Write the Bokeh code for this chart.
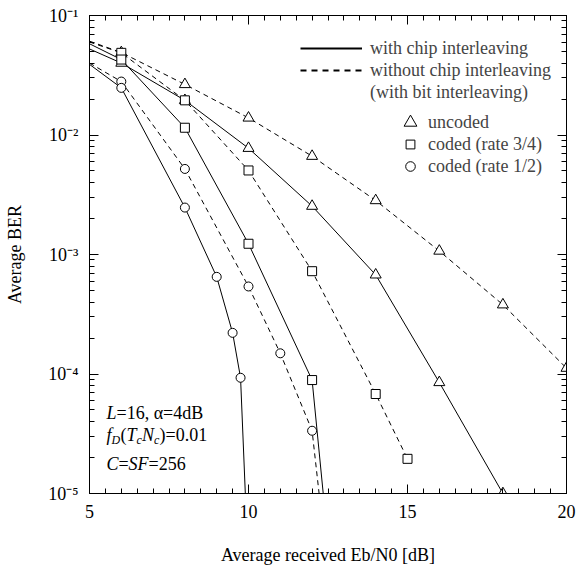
import math
from bokeh.plotting import figure
from bokeh.models import Range1d, FixedTicker, LinearAxis, LogAxis, Label, Legend, LegendItem
from bokeh.embed import file_html
from bokeh.resources import INLINE

# ---------------- data ----------------
x_ticks = [5, 10, 15, 20]
y_exponents = [-5, -4, -3, -2, -1]
y_tick_labels = ["10\u207b\u2075", "10\u207b\u2074", "10\u207b\u00b3", "10\u207b\u00b2", "10\u207b\u00b9"]

# uncoded
unc_dash_x = [5, 6, 8, 10, 12, 14, 16, 18, 20]
unc_dash_y = [6.1e-2, 4.9e-2, 2.65e-2, 1.39e-2, 6.65e-3, 2.83e-3, 1.07e-3, 3.8e-4, 1.12e-4]
unc_solid_x = [5, 6, 8, 10, 12, 14, 16, 18]
unc_solid_y = [5.25e-2, 4.0e-2, 1.95e-2, 7.75e-3, 2.54e-3, 6.76e-4, 8.5e-5, 1.0e-5]
# coded rate 3/4
r34_dash_x = [5, 6, 8, 10, 12, 14, 15]
r34_dash_y = [6.0e-2, 4.87e-2, 1.95e-2, 5.05e-3, 7.25e-4, 6.8e-5, 1.95e-5]
r34_solid_x = [5, 6, 8, 10, 12, 12.35]
r34_solid_y = [5.8e-2, 4.28e-2, 1.15e-2, 1.23e-3, 8.9e-5, 1.0e-5]
# coded rate 1/2
r12_dash_x = [5, 6, 8, 10, 11, 12, 12.22]
r12_dash_y = [4.0e-2, 2.8e-2, 5.2e-3, 5.4e-4, 1.49e-4, 3.35e-5, 1.0e-5]
r12_solid_x = [5, 6, 8, 9, 9.5, 9.75, 9.9]
r12_solid_y = [3.9e-2, 2.48e-2, 2.47e-3, 6.5e-4, 2.21e-4, 9.3e-5, 1.0e-5]

legend_line_labels = ["with chip interleaving", "without chip interleaving", "(with bit interleaving)"]
legend_marker_labels = ["uncoded", "coded (rate 3/4)", "coded (rate 1/2)"]
x_title = "Average received Eb/N0 [dB]"
y_title = "Average BER"

FONT = "Liberation Serif"
DASH = "5 4"

# (x, y, marker, dash, first marked index, last marked index (exclusive))
series = [
    (unc_dash_x, unc_dash_y, "triangle", DASH, 1, len(unc_dash_x)),
    (unc_solid_x, unc_solid_y, "triangle", "solid", 1, len(unc_solid_x)),
    (r34_dash_x, r34_dash_y, "square", DASH, 1, len(r34_dash_x)),
    (r34_solid_x, r34_solid_y, "square", "solid", 1, len(r34_solid_x) - 1),
    (r12_dash_x, r12_dash_y, "circle", DASH, 1, len(r12_dash_x) - 1),
    (r12_solid_x, r12_solid_y, "circle", "solid", 1, len(r12_solid_x) - 1),
]
marker_size = {"triangle": 11, "square": 9, "circle": 9}

p = figure(width=586, height=570,
           x_range=Range1d(5, 20), y_range=Range1d(1e-5, 1e-1),
           y_axis_type="log", output_backend="svg", toolbar_location=None,
           min_border_left=89, min_border_right=20, min_border_top=15, min_border_bottom=77)
p.xgrid.visible = False
p.ygrid.visible = False
p.outline_line_color = "black"
p.background_fill_color = "white"
p.border_fill_color = "white"

y_major = [10.0 ** e for e in y_exponents]
xt = FixedTicker(ticks=x_ticks, minor_ticks=[5 + 0.5 * i for i in range(31)])
yt = FixedTicker(ticks=y_major,
                 minor_ticks=[k * 10.0 ** e for e in y_exponents[:-1] for k in range(2, 10)])


def style_axis(ax, ticker, ticks, labels=None, standoff=10):
    ax.ticker = ticker
    ax.axis_line_color = "black"
    ax.major_tick_line_color = "black"
    ax.minor_tick_line_color = "black"
    ax.major_tick_in = 9
    ax.major_tick_out = 0
    ax.minor_tick_in = 5
    ax.minor_tick_out = 0
    ax.major_label_text_font = FONT
    if labels is not None:
        ax.major_label_text_font_size = "18px"
        ax.major_label_standoff = standoff
        ax.major_label_text_color = "black"
        ax.major_label_overrides = {t: s for t, s in zip(ticks, labels)}
    else:
        ax.major_label_text_font_size = "1px"
        ax.major_label_standoff = 0
        ax.major_label_overrides = {t: "" for t in ticks}


def style_title(ax, text, standoff):
    ax.axis_label = text
    ax.axis_label_text_font = FONT
    ax.axis_label_text_font_size = "18px"
    ax.axis_label_text_font_style = "normal"
    ax.axis_label_text_color = "black"
    ax.axis_label_standoff = standoff


style_axis(p.xaxis[0], xt, x_ticks, [str(t) for t in x_ticks], standoff=11)
style_title(p.xaxis[0], x_title, 24)
style_axis(p.yaxis[0], yt, y_major, y_tick_labels, standoff=11)
style_title(p.yaxis[0], y_title, 20)

top_ax = LinearAxis()
style_axis(top_ax, xt, x_ticks)
p.add_layout(top_ax, "above")
right_ax = LogAxis()
style_axis(right_ax, yt, y_major)
p.add_layout(right_ax, "right")

for xs, ys, marker, dash, m0, m1 in series:
    p.line(xs, ys, line_color="black", line_width=1, line_dash=dash)
for xs, ys, marker, dash, m0, m1 in series:
    p.scatter(xs[m0:m1], ys[m0:m1], marker=marker, size=marker_size[marker],
              fill_color="white", line_color="black", line_width=1)

# ---------------- legends (hidden copies of the data, used only for legend glyphs) ----------------
l_solid = p.line(unc_solid_x, unc_solid_y, line_color="black", line_width=2, visible=False)
l_dash = p.line(unc_dash_x, unc_dash_y, line_color="black", line_width=2, line_dash="6 5", visible=False)
l_blank = p.line(unc_dash_x, unc_dash_y, line_alpha=0, visible=False)
leg1 = Legend(items=[LegendItem(label=legend_line_labels[0], renderers=[l_solid]),
                     LegendItem(label=legend_line_labels[1], renderers=[l_dash]),
                     LegendItem(label=legend_line_labels[2], renderers=[l_blank])],
              location=(211, 390), glyph_width=62, glyph_height=22, label_height=22,
              label_standoff=8, spacing=0, padding=0, margin=0,
              border_line_alpha=0, background_fill_alpha=0,
              label_text_font=FONT, label_text_font_size="18px")
p.add_layout(leg1)

marker_legend = [("triangle", unc_dash_x, unc_dash_y, 32, 122),
                 ("square", r34_dash_x, r34_dash_y, 22, 144),
                 ("circle", r12_dash_x, r12_dash_y, 24, 166)]
for (mk, xs, ys, gsz, cy), lab in zip(marker_legend, legend_marker_labels):
    r = p.scatter(xs, ys, marker=mk, size=10, fill_color="white", line_color="black",
                  line_width=1, visible=False)
    left = 410 - gsz // 2
    lg = Legend(items=[LegendItem(label=lab, renderers=[r])],
                location=(left - 89, 493 - (cy + gsz // 2)), glyph_width=gsz, glyph_height=gsz,
                label_height=gsz, label_standoff=int(428 - (left + gsz)), spacing=0, padding=0, margin=0,
                border_line_alpha=0, background_fill_alpha=0,
                label_text_font=FONT, label_text_font_size="18px")
    p.add_layout(lg)


# ---------------- texts inside the frame ----------------
def txt(x, y, s, size="18px", italic=False):
    # x, y: canvas pixels (from top-left) -> frame-relative screen units
    p.add_layout(Label(x=x - 89, y=493 - y, x_units="screen", y_units="screen", text=s,
                       text_font=FONT, text_font_size=size,
                       text_font_style="italic" if italic else "normal",
                       text_color="black", text_baseline="alphabetic", text_align="left"))


txt(106, 412, "L", italic=True)
txt(116, 412, "=16, \u03b1=4dB")

txt(106, 434, "f", italic=True)
txt(111, 439, "D", size="12px", italic=True)
txt(120, 434, "(")
txt(126, 434, "T", italic=True)
txt(136, 439, "c", size="12px", italic=True)
txt(141.5, 434, "N", italic=True)
txt(153.5, 439, "c", size="12px", italic=True)
txt(159, 434, ")=0.01")

txt(106, 463, "C", italic=True)
txt(118, 463, "=")
txt(128, 463, "SF", italic=True)
txt(148, 463, "=256")

open("out.html", "w").write(file_html(p, INLINE))
